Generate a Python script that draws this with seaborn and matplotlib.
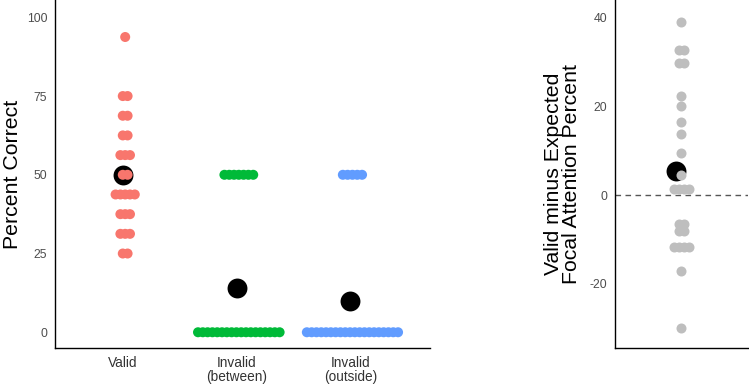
import numpy as np
import pandas as pd
import matplotlib
matplotlib.use("Agg")
import matplotlib.pyplot as plt
import seaborn as sns

# ---------------- data ----------------
conditions = ["Valid", "Invalid\n(between)", "Invalid\n(outside)"]
valid_pct = [93.75, 75, 75, 68.75, 68.75, 62.5, 62.5, 56.25, 56.25, 56.25,
             50, 50, 43.75, 43.75, 43.75, 43.75, 43.75, 37.5, 37.5, 37.5,
             31.25, 31.25, 31.25, 25, 25]
between_pct = [50, 50, 50, 50, 50, 50, 50,
               0, 0, 0, 0, 0, 0, 0, 0, 0, 0, 0, 0, 0, 0, 0, 0, 0, 0]
outside_pct = [50, 50, 50, 50, 50,
               0, 0, 0, 0, 0, 0, 0, 0, 0, 0, 0, 0, 0, 0, 0, 0, 0, 0, 0, 0]
diff_pct = [39.1, 32.7, 32.7, 29.9, 29.9, 22.4, 20.1, 16.4, 13.7, 9.5, 4.5,
            1.35, 1.35, 1.35, 1.35, -6.5, -6.5, -8.1, -8.1,
            -11.7, -11.7, -11.7, -11.7, -17.1, -30.0]
left_ticks = [0, 25, 50, 75, 100]
right_ticks = [-20, 0, 20, 40]

palette = ["#F8766D", "#00BA38", "#619CFF"]
grey_dot = "#BEBEBE"

# ---------------- style ----------------
sns.set_style("white")
plt.rcParams["font.family"] = ["Liberation Sans", "DejaVu Sans"]

W, H, DPI = 749, 389, 100
fig = plt.figure(figsize=(W / DPI, H / DPI), dpi=DPI)
axL = fig.add_axes([55 / W, 41 / H, 375 / W, 348 / H])
axR = fig.add_axes([615 / W, 41 / H, 133 / W, 348 / H])

L_XLIM = (0.4, 3.7)
R_XLIM = (0.4, 1.7)
STEP_PX = 4.8          # horizontal spacing of stacked dots (pixels)
DOT_S = 52             # dot marker area
MEAN_S = 205           # mean marker area


def stack_positions(values, center, step, nudge):
    """Centered horizontal stacking of equal values (dot-plot layout)."""
    values = np.asarray(values, dtype=float)
    xs = np.empty_like(values)
    for v in np.unique(values):
        idx = np.where(values == v)[0]
        n = len(idx)
        xs[idx] = center + nudge + (np.arange(n) - (n - 1) / 2) * step
    return xs


# left panel layout
stepL = STEP_PX * (L_XLIM[1] - L_XLIM[0]) / 375
nudgeL = 2.0 * (L_XLIM[1] - L_XLIM[0]) / 375
frames = []
for i, (cond, vals) in enumerate(zip(conditions, [valid_pct, between_pct, outside_pct])):
    frames.append(pd.DataFrame({
        "cond": cond,
        "value": vals,
        "x": stack_positions(vals, i + 1, stepL, nudgeL),
    }))
dfL = pd.concat(frames, ignore_index=True)
meansL = pd.DataFrame({
    "cond": conditions,
    "pos": [1, 2, 3],
    "mean": [np.mean(valid_pct), np.mean(between_pct), np.mean(outside_pct)],
})

sns.scatterplot(data=meansL, x="pos", y="mean", color="black", s=MEAN_S,
                linewidth=0, legend=False, ax=axL, zorder=2)
sns.scatterplot(data=dfL, x="x", y="value", hue="cond", palette=palette,
                hue_order=conditions, s=DOT_S, linewidth=0, legend=False,
                ax=axL, zorder=3)

# right panel layout
stepR = STEP_PX * (R_XLIM[1] - R_XLIM[0]) / 133
nudgeR = 5.0 * (R_XLIM[1] - R_XLIM[0]) / 133
dfR = pd.DataFrame({"value": diff_pct,
                    "x": stack_positions(diff_pct, 1, stepR, nudgeR)})
meanR = pd.DataFrame({"pos": [1], "mean": [np.mean(diff_pct)]})

axR.axhline(0, color="#555555", lw=1.0, ls=(0, (4, 3.2)), zorder=1)
sns.scatterplot(data=meanR, x="pos", y="mean", color="black", s=MEAN_S,
                linewidth=0, legend=False, ax=axR, zorder=2)
sns.scatterplot(data=dfR, x="x", y="value", color=grey_dot, s=DOT_S,
                linewidth=0, legend=False, ax=axR, zorder=3)

# ---------------- axes cosmetics ----------------
for ax in (axL, axR):
    for side in ("top", "right"):
        ax.spines[side].set_visible(False)
    for side in ("left", "bottom"):
        ax.spines[side].set_color("black")
        ax.spines[side].set_linewidth(1.0)
    ax.tick_params(axis="both", length=3.5, width=0.8, color="#333333",
                   labelcolor="#4D4D4D", pad=2)
    ax.set_facecolor("white")
    ax.grid(False)

axL.set_xlim(*L_XLIM)
axL.set_ylim(-5, 105.5)
axL.set_xticks([1, 2, 3])
axL.set_xticklabels(conditions, fontsize=9.8, linespacing=1.05, color="#333333")
axL.set_yticks(left_ticks)
axL.set_yticklabels([str(t) for t in left_ticks], fontsize=8.8)
axL.set_xlabel("")
axL.set_ylabel("Percent Correct", fontsize=15.3, color="black")
axL.yaxis.set_label_coords(-0.088, 0.5)

axR.set_xlim(*R_XLIM)
axR.set_ylim(-34.5, 44.0)
axR.set_xticks([])
axR.set_yticks(right_ticks)
axR.set_yticklabels([str(t) for t in right_ticks], fontsize=8.8)
axR.set_xlabel("")
axR.set_ylabel("Valid minus Expected\nFocal Attention Percent", fontsize=15.3,
               color="black", linespacing=0.95)
axR.yaxis.set_label_coords(-0.255, 0.5)

fig.savefig("out.png", dpi=DPI, facecolor="white")
